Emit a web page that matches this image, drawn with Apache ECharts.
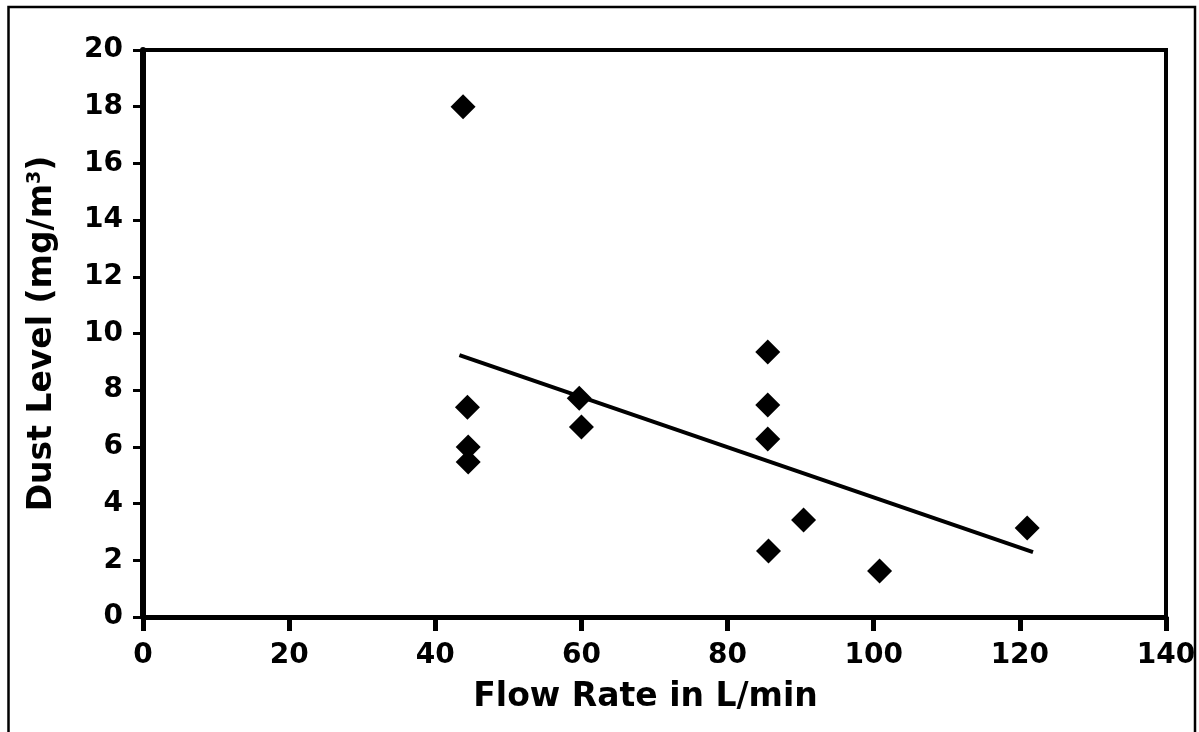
<!DOCTYPE html>
<html>
<head>
<meta charset="utf-8">
<title>Dust Level vs Flow Rate</title>
<script src="https://cdn.jsdelivr.net/npm/echarts@6/dist/echarts.min.js"></script>
<style>
  html, body { margin: 0; padding: 0; background: #fff; }
  #chart { width: 1199px; height: 732px; }
</style>
</head>
<body>
<div id="chart"></div>
<script>
// 散点数据（流量 L/min, 粉尘浓度 mg/m3）
var flowRate = [43.8, 44.4, 44.5, 44.5, 59.7, 60.0, 85.5, 85.5, 85.5, 85.6, 90.4, 100.8, 121.0];
var dustLevel = [18.0, 7.4, 6.0, 5.47, 7.72, 6.70, 9.35, 7.48, 6.28, 2.33, 3.42, 1.62, 3.14];

// 趋势线两端
var trendX = [43.3, 121.8];
var trendY = [9.24, 2.29];

var xTitle = 'Flow Rate in L/min';
var yTitle = 'Dust Level (mg/m{sup|3})';

var font = 'DejaVu Sans';

var scatterData = [];
for (var i = 0; i < flowRate.length; i++) {
  scatterData.push([flowRate[i], dustLevel[i]]);
}
var trendData = [];
for (var j = 0; j < trendX.length; j++) {
  trendData.push([trendX[j], trendY[j]]);
}

var chart = echarts.init(document.getElementById('chart'));

var option = {
  animation: false,
  backgroundColor: '#fff',
  graphic: [{
    // 外框
    type: 'rect',
    shape: { x: 8.5, y: 7, width: 1186.5, height: 740 },
    style: { fill: 'none', stroke: '#000', lineWidth: 2.5 },
    silent: true
  }],
  grid: {
    left: 143,
    right: 33,
    top: 50,
    bottom: 115,
    show: true,
    borderColor: '#000',
    borderWidth: 4
  },
  xAxis: {
    type: 'value',
    min: 0,
    max: 140,
    interval: 20,
    name: xTitle,
    nameLocation: 'middle',
    nameGap: 64,
    nameTextStyle: {
      fontFamily: font,
      fontWeight: 'bold',
      fontSize: 33,
      color: '#000',
      padding: [0, 18, 0, 0]
    },
    axisLine: { show: true, lineStyle: { color: '#000', width: 5 } },
    axisTick: { show: true, length: 14, lineStyle: { color: '#000', width: 5 } },
    axisLabel: {
      margin: 25,
      fontFamily: font,
      fontWeight: 'bold',
      fontSize: 28,
      color: '#000'
    },
    splitLine: { show: false }
  },
  yAxis: {
    type: 'value',
    min: 0,
    max: 20,
    interval: 2,
    name: yTitle,
    nameLocation: 'middle',
    nameGap: 84,
    nameTextStyle: {
      fontFamily: font,
      fontWeight: 'bold',
      fontSize: 33,
      color: '#000',
      rich: {
        sup: {
          fontFamily: font,
          fontWeight: 'bold',
          fontSize: 19,
          color: '#000',
          verticalAlign: 'top'
        }
      }
    },
    axisLine: { show: true, lineStyle: { color: '#000', width: 6 } },
    axisTick: { show: true, length: 10, lineStyle: { color: '#000', width: 3 } },
    axisLabel: {
      margin: 20,
      fontFamily: font,
      fontWeight: 'bold',
      fontSize: 28,
      color: '#000'
    },
    splitLine: { show: false }
  },
  series: [{
    type: 'line',
    data: trendData,
    symbol: 'none',
    z: 2,
    lineStyle: { color: '#000', width: 4 }
  }, {
    type: 'scatter',
    data: scatterData,
    symbol: 'diamond',
    symbolSize: [25, 25],
    z: 3,
    itemStyle: { color: '#000', opacity: 1 }
  }]
};

chart.setOption(option);
</script>
</body>
</html>
